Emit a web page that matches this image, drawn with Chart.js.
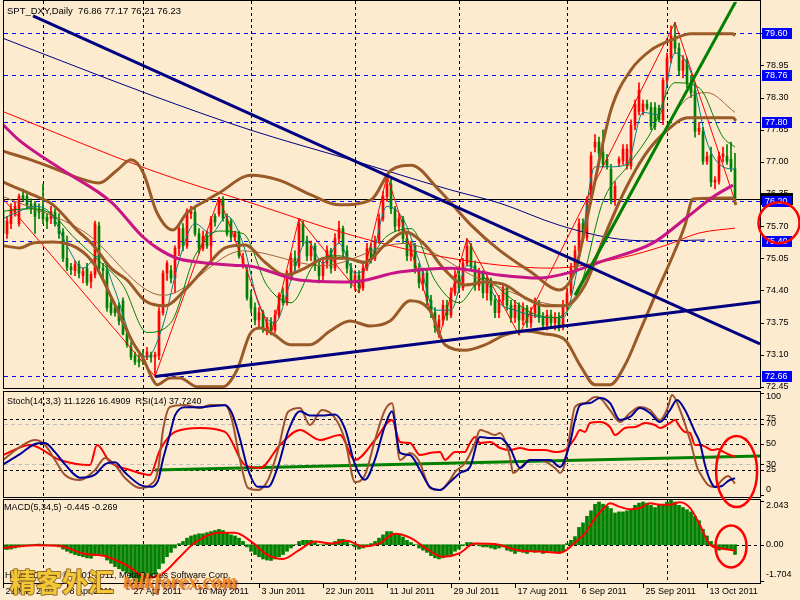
<!DOCTYPE html>
<html>
<head>
<meta charset="utf-8">
<title>SPT_DXY Daily</title>
<script src="https://cdn.jsdelivr.net/npm/chart.js@4.4.0/dist/chart.umd.min.js"></script>
<style>
  body { margin:0; background:#FCEBCF; }
  #wrap { position:relative; width:800px; height:600px; overflow:hidden; background:#FCEBCF; }
  .pane { position:absolute; left:0; width:800px; }
  #notes { position:absolute; left:0; top:0; pointer-events:none; }
</style>
</head>
<body>
<div id="wrap">
  <div class="pane" style="top:0;height:390px"><canvas id="cMain"></canvas></div>
  <div class="pane" style="top:390px;height:108px"><canvas id="cOsc"></canvas></div>
  <div class="pane" style="top:498px;height:102px"><canvas id="cMacd"></canvas></div>
  <canvas id="notes" width="800" height="600"></canvas>
</div>
<script>
// daily bars, one per trading day (incl. sunday bars), 21 Mar 2011 .. 17 Oct 2011
var opens = [
76.00,75.55,75.75,76.00,75.75,76.32,76.30,76.15,76.15,76.05,
76.05,75.88,75.85,75.98,75.80,75.58,75.05,74.87,74.80,74.92,
74.70,74.85,74.58,74.72,75.70,74.85,74.80,74.15,74.05,74.09,
74.19,73.52,73.25,73.08,73.00,73.08,73.05,73.10,73.05,73.08,
73.95,74.75,74.80,74.65,75.25,75.65,75.30,75.95,75.98,75.55,
75.25,75.50,75.30,75.90,75.95,76.25,75.85,75.80,75.48,75.55,
74.95,74.80,74.25,74.05,73.80,73.95,73.65,73.75,73.60,73.90,
74.30,74.15,74.70,75.05,74.90,75.75,75.40,75.10,75.30,74.90,
74.70,74.95,75.20,74.85,75.45,75.65,75.20,74.85,74.55,74.70,
74.45,74.85,75.25,75.05,75.40,75.85,76.30,76.55,76.05,75.70,
75.85,75.45,75.10,75.30,74.85,74.55,74.75,74.20,73.95,73.65,
73.80,74.10,73.90,74.35,74.70,74.45,74.95,75.30,74.90,74.50,
74.75,74.35,74.60,74.20,73.95,74.20,74.45,74.10,73.85,74.10,
73.80,74.05,73.75,73.95,74.15,73.85,73.70,73.90,73.75,73.85,
73.70,74.10,74.35,74.85,75.20,75.75,75.46,76.25,77.30,77.40,
77.20,77.05,76.85,76.22,76.98,77.02,76.92,76.92,77.74,78.02,
78.02,78.17,78.10,78.10,78.08,77.85,78.65,79.10,79.55,79.30,
78.85,79.05,78.60,78.45,77.62,77.62,77.01,77.14,76.59,76.61,
77.11,77.11,77.05,76.86];
var highs = [
76.10,75.90,76.15,76.20,76.35,76.45,76.40,76.25,76.20,76.15,
76.55,75.95,76.10,76.05,75.95,75.65,75.50,74.95,75.00,75.00,
74.85,74.95,74.78,75.80,75.78,74.95,74.90,74.30,74.10,74.15,
74.25,73.60,73.35,73.15,73.10,73.20,73.25,73.15,73.15,74.05,
74.80,75.00,74.90,75.30,75.75,75.75,76.05,76.10,76.10,75.65,
75.60,75.60,75.90,75.95,76.28,76.30,75.95,75.85,75.60,75.60,
75.15,74.90,74.40,74.15,74.05,74.00,73.85,73.85,74.00,74.35,
74.45,74.80,75.15,75.20,75.85,75.80,75.50,75.40,75.35,75.00,
75.05,75.30,75.25,75.55,75.80,75.70,75.30,74.95,74.80,74.80,
74.95,75.35,75.35,75.50,75.95,76.40,76.72,76.65,76.10,75.95,
75.90,75.55,75.40,75.35,74.95,74.85,74.80,74.30,74.05,73.90,
74.20,74.20,74.45,74.80,74.80,75.05,75.45,75.35,75.00,74.85,
74.80,74.70,74.65,74.30,74.30,74.55,74.50,74.20,74.20,74.15,
74.15,74.10,74.05,74.25,74.20,73.95,74.00,74.00,73.95,73.95,
74.20,74.45,74.95,75.30,75.85,75.85,76.30,77.20,77.55,77.50,
77.65,77.15,76.95,76.60,77.10,77.35,77.35,77.85,78.25,78.60,
78.25,78.25,78.20,78.20,78.15,78.70,79.20,79.75,79.82,79.40,
79.15,79.10,78.75,78.60,77.80,77.70,77.20,77.30,76.70,77.20,
77.30,77.35,77.40,77.17];
var lows = [
75.40,75.45,75.65,75.90,75.70,76.20,76.05,75.95,75.55,75.85,
75.75,75.65,75.75,75.70,75.45,74.98,74.80,74.72,74.70,74.65,
74.55,74.50,74.45,74.65,74.75,74.60,73.98,73.90,73.88,73.70,
73.50,73.25,73.00,72.90,72.85,72.90,73.00,72.95,72.66,73.00,
73.90,74.60,74.55,74.35,75.10,75.20,75.25,75.85,75.50,75.15,
75.20,75.25,75.00,75.70,75.90,75.80,75.50,75.40,75.40,75.05,
74.85,74.20,73.95,73.70,73.65,73.55,73.50,73.50,73.55,73.85,
74.10,74.10,74.60,74.80,74.85,75.30,75.00,75.00,74.80,74.55,
74.60,74.85,74.75,74.80,75.35,75.10,74.75,74.45,74.40,74.35,
74.40,74.80,74.95,75.00,75.35,75.80,76.20,75.95,75.60,75.60,
75.35,75.00,75.00,74.75,74.45,74.40,74.10,73.85,73.55,73.45,
73.70,73.80,73.85,74.30,74.35,74.40,74.90,74.80,74.40,74.40,
74.25,74.20,74.10,73.85,73.85,74.10,74.00,73.75,73.75,73.50,
73.70,73.65,73.65,73.85,73.75,73.60,73.60,73.65,73.60,73.58,
73.60,74.00,74.30,74.75,75.10,75.40,75.40,76.15,77.20,77.10,
76.90,76.85,76.15,76.12,76.90,76.95,76.85,76.85,77.65,77.95,
77.95,78.05,77.65,77.65,77.80,77.75,78.55,79.00,79.20,78.75,
78.70,78.50,78.30,77.50,77.55,76.95,76.95,76.50,76.45,76.55,
77.00,76.95,76.80,76.21];
var closes = [
75.55,75.80,76.05,76.10,76.30,76.25,76.12,76.05,75.90,75.98,
75.85,75.80,76.00,75.75,75.55,75.05,74.87,74.82,74.92,74.75,
74.78,74.55,74.72,75.75,74.85,74.80,74.05,73.95,73.95,73.78,
73.52,73.30,73.05,72.95,72.95,72.98,73.15,73.05,73.10,73.98,
74.75,74.95,74.65,75.25,75.65,75.30,76.00,76.00,75.55,75.25,
75.50,75.30,75.85,75.78,76.25,75.85,75.55,75.48,75.55,75.10,
75.05,74.25,74.05,73.80,73.95,73.65,73.75,73.60,73.90,74.30,
74.15,74.70,75.05,74.90,75.75,75.40,75.10,75.30,74.90,74.70,
74.95,75.20,74.85,75.45,75.65,75.20,74.85,74.55,74.70,74.45,
74.85,75.25,75.05,75.40,75.85,76.30,76.55,76.05,75.70,75.85,
75.45,75.10,75.30,74.85,74.55,74.75,74.20,73.95,73.65,73.80,
74.10,73.90,74.35,74.70,74.45,74.95,75.30,74.90,74.50,74.75,
74.35,74.60,74.20,73.95,74.20,74.45,74.10,73.85,74.10,73.80,
74.05,73.75,73.95,74.15,73.85,73.70,73.90,73.75,73.85,73.70,
74.10,74.35,74.85,75.20,75.75,75.45,76.25,77.12,77.40,77.18,
76.95,76.91,76.22,76.51,77.05,77.26,77.26,77.74,78.17,78.45,
78.17,78.10,77.72,77.72,77.85,78.65,79.10,79.55,79.30,78.85,
79.05,78.60,78.40,77.62,77.68,77.01,77.11,76.59,76.63,77.11,
77.16,77.01,76.87,76.23];

// indicator lines as [bar, value]
var bbUpper = [[-1,77.24],[7,77.04],[14,76.83],[19,76.67],[24,76.57],[28.5,76.83],[32,77.04],[35,76.79],[38.5,75.97],[42.5,75.62],[46,75.97],[51,76.23],[54,76.37],[62,76.73],[69,76.63],[77,76.33],[84,76.13],[92,76.23],[97,76.83],[102,76.93],[109,76.43],[117,75.72],[124,75.22],[132,74.77],[139,74.41],[143,74.81],[147,76.23],[152,78.05],[157,78.86],[162,79.26],[167,79.46],[172,79.59],[182.5,79.59],[183,79.55]];
var bbMiddle = [[-1,76.63],[1.75,76.53],[7.5,76.33],[12.5,76.13],[18.5,75.62],[22.5,75.32],[27,74.85],[31,74.61],[35.5,74.19],[40.5,74.09],[45.5,74.41],[50.5,74.85],[55.5,75.26],[60.5,75.32],[65.5,74.97],[70.5,74.71],[75.5,74.85],[80.5,75.05],[85.5,75.05],[90.5,74.97],[95.5,75.32],[100.5,75.58],[105.5,75.32],[110.5,74.81],[115.5,74.51],[120.5,74.57],[125.5,74.51],[130.5,74.25],[135.5,74.09],[140.5,74.09],[145.5,74.51],[150.5,75.52],[155.5,76.43],[160.5,77.14],[165.5,77.60],[171.25,77.89],[182.5,77.89],[183.25,77.83]];
var bbLower = [[-1,75.32],[4.25,75.26],[7.5,75.36],[12.5,75.38],[18.5,75.26],[23,74.91],[27.5,74.19],[32.5,73.34],[35,73.03],[37.5,72.59],[38.5,72.49],[41.75,72.63],[44.25,72.63],[48.5,72.45],[55,72.45],[58.5,72.79],[61.75,73.52],[64.25,73.64],[67.5,73.52],[71.75,73.30],[76.75,73.30],[81.75,73.58],[86.75,73.78],[91.75,73.68],[96.75,73.78],[101.75,74.19],[106.75,73.99],[110.5,73.30],[115.5,73.19],[120.5,73.30],[125.5,73.50],[130.5,73.58],[135.5,73.52],[140.5,73.40],[144.25,72.89],[148,72.49],[151.75,72.49],[155.5,72.89],[159.25,73.58],[163,74.29],[166.75,74.97],[170.5,75.72],[172.5,76.25],[182.5,76.27],[183.25,76.13]];
var maMagenta = [[0,77.75],[4,77.44],[15,76.83],[27,76.19],[35,75.48],[38.5,75.26],[43.5,75.05],[49,74.97],[57.5,74.91],[62,74.89],[74,74.61],[87,74.57],[99,74.77],[112,74.85],[124,74.71],[134,74.65],[142,74.77],[149,74.97],[162.5,75.36],[171,75.88],[177.5,76.29],[182.5,76.53]];
var maNavy = [[-1,79.53],[14,79.06],[37,78.35],[62,77.64],[87,77.04],[112,76.43],[124,76.17],[139,75.72],[152,75.46],[162,75.40],[175.5,75.42]];
var maRed = [[-1,78.05],[37,76.83],[62,76.17],[87,75.52],[112,75.05],[137,74.85],[154,75.05],[166,75.32],[174,75.56],[183,75.66]];
var maTeal = [[0,75.85],[4,76.0],[8,76.1],[12,75.95],[16,75.3],[20,74.85],[24,75.1],[28,74.4],[32,73.45],[36,73.05],[40,73.7],[44,75.0],[48,75.75],[52,75.55],[56,75.9],[60,75.35],[64,74.1],[68,73.75],[72,74.6],[76,75.4],[80,74.95],[84,75.35],[88,74.75],[92,75.0],[96,76.1],[100,75.85],[104,75.0],[108,74.0],[112,74.0],[116,74.9],[120,74.7],[124,74.15],[128,74.0],[132,73.9],[136,73.85],[140,73.85],[144,75.0],[148,76.9],[152,76.9],[156,76.95],[160,78.0],[164,77.95],[168,79.2],[172,78.8],[176,77.4],[180,76.9],[183,76.85]];
var maGreen = [[0,76.0],[6,76.05],[12,75.95],[18,75.45],[24,75.0],[30,74.5],[36,73.55],[42,73.75],[48,75.1],[54,75.6],[60,75.55],[66,74.5],[72,74.15],[78,74.95],[84,75.1],[90,74.95],[96,75.5],[102,75.65],[108,74.6],[114,74.15],[120,74.65],[126,74.3],[132,73.95],[138,73.85],[144,74.4],[150,76.2],[156,76.9],[162,77.6],[168,78.6],[174,78.5],[180,77.5],[183,77.3]];
var maBrown = [[0,76.3],[20,75.6],[40,74.3],[60,75.2],[80,74.9],[100,75.35],[120,74.6],[140,74.1],[150,75.3],[160,76.8],[170,78.2],[176,78.4],[183,78.0]];
var zigzag = [[-1,76.35],[38,72.66],[54,76.28],[67,73.50],[74,75.85],[89,74.35],[96,76.72],[109,73.45],[116,75.45],[129,73.50],[168,79.82],[183,76.21]];
// hand-drawn trend lines: two anchor points each
var trendDown = [[7.5,79.95],[189.25,73.32]];
var trendUp = [[38,72.66],[189.25,74.17]];
var trendGreen = [[143,74.30],[189.25,81.14]];

// oscillator window
var stochMain = [[0,34.3],[4.25,47.1],[8,53.9],[10.5,49],[13,34.3],[15.5,19.6],[19.25,14.7],[23,24.5],[25.5,36.3],[28,29.4],[30.5,16.7],[34.25,6.9],[36.75,9.8],[38.75,24.5],[40,63.7],[41.75,86.3],[45.5,88.2],[49.25,85.3],[51.75,88.2],[55.5,88.2],[57.25,73.5],[59.25,34.3],[61.25,6.9],[63.75,4.9],[66.25,14.7],[68.75,44.1],[71.25,81.4],[74.25,85.3],[76.75,68.6],[79.75,83.3],[83,75.5],[85.5,53.9],[88,12.7],[90.5,19.6],[93,53.9],[95.5,83.3],[97.25,90],[99.25,34.3],[101.75,41.2],[104.25,31.4],[105.5,17.6],[106.75,6.9],[109.25,4.9],[111.75,14.7],[113,22.5],[115.5,31.4],[118,51],[119.25,63.7],[121,61.8],[123,58.8],[124.25,60.8],[126.75,37.3],[127.5,21.6],[129.25,26.5],[131.75,34.3],[134.25,34.3],[138,26.5],[139.25,21.6],[140.5,31.4],[141.75,60.8],[143,86.3],[145.5,90.2],[148,96.1],[149.25,95.1],[151.75,83.3],[154.25,71.6],[156.75,80.4],[159.25,86.3],[161.75,83.3],[164.25,73.5],[166.25,86.3],[167.25,98],[169.25,83.3],[171.75,53.9],[173.5,27.5],[174.25,21.6],[176.25,9.8],[178,7.8],[179.75,14.7],[181.25,18.6],[183,11.12]];
var stochSignal = [[0,30],[4.25,40],[8,50],[10.5,51],[13,42],[15.5,30],[19.25,17],[23,20],[25.5,30],[28,32],[30.5,22],[34.25,10],[36.75,8],[38.75,14],[40,35],[41.75,60],[43,78],[45.5,86],[49.25,86],[51.75,87],[55.5,88],[57.25,80],[59.25,55],[61.25,25],[63.75,8],[66.25,8],[68.75,28],[71.25,62],[74.25,82],[76.75,78],[79.75,78],[83,79],[85.5,65],[88,30],[90.5,15],[93,35],[95.5,68],[97.25,82],[99.25,41.2],[101.75,39.2],[104.25,24.5],[106.75,7.8],[109.25,4.9],[111.75,12.7],[114.25,21.6],[116.75,27.5],[119.25,56.9],[121.75,55.9],[124.25,55.9],[126.75,46.1],[129.25,26.5],[131.75,34.3],[136.75,34.3],[139.25,27.5],[141.75,51],[143,73.5],[144.25,88.2],[146.75,90.2],[149.25,95.1],[151.75,90.2],[154.25,73.5],[156.75,76.5],[159.25,85.3],[161.75,80.4],[164.25,71.6],[166.75,83.3],[168.5,93.1],[170.5,83.3],[173,61.8],[174.25,51],[175.5,29.4],[176.75,14.7],[178,7.8],[179.75,8.8],[181.25,13.7],[183,16.49]];
var rsi = [[0,39.2],[6.75,49],[14.25,34.3],[21.75,29.4],[23.5,49],[26.75,32.4],[31.75,24.5],[36.75,19.6],[39.25,44.1],[43,61.8],[49.25,65.7],[55.5,61.8],[60.5,29.4],[64.25,26.5],[69.25,49],[74.25,63.7],[79.25,53.9],[84.25,58.8],[88,34.3],[93,53.9],[97.25,73.5],[99.25,52],[101.75,51],[104.25,39.2],[106.75,41.2],[109.25,42.2],[110.5,34.3],[113,42.2],[115.5,42.2],[116.75,51],[118,56.9],[119.25,51],[121.75,52],[124.25,46.1],[126.75,44.1],[129.25,46.1],[131.75,44.1],[135.5,44.1],[138,42.2],[140.5,44.1],[141.75,49],[143,55.9],[144.25,63.7],[145.5,61.8],[146.75,70.6],[149.25,71.6],[151.75,66.7],[153,58.8],[155.5,65.7],[158,66.7],[160.5,70.6],[163,68.6],[164.25,65.7],[166.75,70.6],[168,73.5],[169.25,66.7],[170.5,61.8],[171.75,60.8],[173,49],[174.25,49],[175.75,47],[177.25,44],[178.75,45],[180.25,42],[181.75,39.2],[183,37.72]];
var rsiTrend = [[38,24.5],[189.25,38.2]];
var oscLevels = [75, 50, 25];
var oscLevelsGray = [70, 30];
var oscTicks = [100, 75, 70, 50, 30, 25, 0];

// MACD(5,34,5) histogram per bar + signal line
var macdHist = [
-0.20,-0.22,-0.20,-0.15,-0.10,-0.05,-0.02,0.00,0.02,0.03,
0.02,0.00,-0.02,-0.05,-0.10,-0.20,-0.30,-0.38,-0.45,-0.50,
-0.55,-0.60,-0.62,-0.50,-0.45,-0.50,-0.70,-0.85,-1.00,-1.10,
-1.20,-1.30,-1.50,-1.65,-1.70,-1.68,-1.55,-1.45,-1.35,-1.10,
-0.85,-0.55,-0.35,-0.15,0.05,0.15,0.30,0.40,0.45,0.50,
0.50,0.55,0.60,0.65,0.70,0.65,0.55,0.45,0.40,0.30,
0.15,-0.10,-0.30,-0.45,-0.55,-0.65,-0.70,-0.72,-0.65,-0.55,
-0.45,-0.30,-0.15,0.00,0.15,0.20,0.20,0.20,0.10,0.00,
0.00,0.05,0.05,0.15,0.25,0.25,0.15,0.00,-0.10,-0.20,
-0.15,-0.05,0.05,0.15,0.30,0.45,0.60,0.60,0.50,0.45,
0.35,0.20,0.10,0.00,-0.15,-0.25,-0.35,-0.50,-0.60,-0.65,
-0.60,-0.55,-0.45,-0.30,-0.20,-0.05,0.10,0.10,0.00,-0.05,
-0.10,-0.10,-0.15,-0.20,-0.15,-0.10,-0.25,-0.30,-0.40,-0.30,
-0.35,-0.40,-0.30,-0.35,-0.30,-0.40,-0.35,-0.30,-0.35,-0.40,
-0.30,0.05,0.20,0.37,0.79,1.00,1.30,1.55,1.85,1.95,
1.85,1.75,1.65,1.45,1.50,1.50,1.55,1.60,1.80,1.90,
1.95,1.90,1.80,1.70,1.80,1.85,1.95,2.04,1.95,1.80,
1.70,1.60,1.50,1.30,1.10,0.70,0.40,0.15,-0.05,-0.25,
-0.20,-0.20,-0.25,-0.445];
var macdSignal = [[0,-0.15],[8,-0.02],[14,-0.05],[20,-0.40],[26,-0.55],[31,-0.95],[36,-1.50],[40,-1.30],[44,-0.60],[48,0.10],[54,0.55],[58,0.55],[62,0.15],[66,-0.45],[70,-0.65],[74,-0.25],[78,0.15],[82,0.05],[86,0.18],[90,-0.08],[94,0.05],[98,0.50],[102,0.30],[106,-0.20],[110,-0.55],[114,-0.40],[118,0.05],[124,0.00],[126.75,-0.16],[129,-0.26],[134,-0.31],[139,-0.37],[140.75,-0.26],[143,0.10],[145.5,0.52],[148,1.20],[150.5,1.73],[151.75,1.89],[154.25,1.73],[156.75,1.62],[159.25,1.68],[161.75,1.89],[164.25,1.83],[166.75,1.83],[169.25,1.94],[171.75,1.68],[174.25,0.89],[176.75,0.0],[179.25,-0.16],[183,-0.269]];
var macdMax = 2.043, macdMin = -1.704;

// axis texts
var priceTicks = [72.45,73.10,73.75,74.40,75.05,75.70,76.35,77.00,77.65,78.30,78.95,79.60];
var priceLevels = [79.60,78.76,77.80,76.20,75.40,72.66];
var bidPrice = 76.23;
var dateLabels = ['21 Mar 2011','8 Apr 2011','27 Apr 2011','16 May 2011','3 Jun 2011','22 Jun 2011','11 Jul 2011','29 Jul 2011','17 Aug 2011','6 Sep 2011','25 Sep 2011','13 Oct 2011'];
var dateBars = [0,16,32,48,64,80,96,112,128,144,160,176];
var gridBars = [10,35,62,88,114,141,166];

var X_MIN = 0.25, X_MAX = 189.25;
var FONT = '"Liberation Sans", Arial, sans-serif';
var UP = '#FF0000', DOWN = '#008000', BROWN = '#9A5A28';

function pts(arr) { return arr.map(function (p) { return { x: p[0], y: p[1] }; }); }
function line(arr, color, width, smooth, order) {
    return {
        type: 'line', data: pts(arr), borderColor: color, borderWidth: width,
        pointRadius: 0, fill: false, order: order || 1,
        tension: 0, cubicInterpolationMode: smooth ? 'monotone' : 'default'
    };
}
function opts(pad, yMin, yMax, plugin) {
    return {
        responsive: true, maintainAspectRatio: false, animation: false, events: [],
        layout: { padding: pad },
        plugins: { legend: { display: false }, tooltip: { enabled: false } },
        scales: {
            x: { type: 'linear', min: X_MIN, max: X_MAX, display: false, offset: false },
            y: { min: yMin, max: yMax, display: false }
        }
    };
}
function dashLine(ctx, x1, y1, x2, y2, color, dash, w) {
    ctx.save();
    ctx.strokeStyle = color; ctx.lineWidth = w || 1; ctx.setLineDash(dash || []);
    ctx.beginPath(); ctx.moveTo(x1, y1); ctx.lineTo(x2, y2); ctx.stroke();
    ctx.restore();
}
function vGrid(chart, top, bottom) {
    var ctx = chart.ctx, xs = chart.scales.x;
    gridBars.forEach(function (b) {
        var x = Math.round(xs.getPixelForValue(b)) + 0.5;
        dashLine(ctx, x, top, x, bottom, '#000', [3, 3]);
    });
}
function frame(ctx, top, bottom) {
    ctx.save();
    ctx.strokeStyle = '#000'; ctx.lineWidth = 1;
    ctx.strokeRect(3.5, top + 0.5, 757, bottom - top);
    ctx.restore();
}
function axisText(ctx, txt, y, tickY) {
    ctx.save();
    ctx.fillStyle = '#000'; ctx.font = '9px ' + FONT; ctx.textBaseline = 'middle';
    dashLine(ctx, 760, Math.round(tickY) + 0.5, 764, Math.round(tickY) + 0.5, '#000');
    ctx.fillText(txt, 766, y);
    ctx.restore();
}

// ---------------- main price window ----------------
var idx = closes.map(function (c, i) { return i; });
var barCol = closes.map(function (c, i) { return c >= opens[i] ? UP : DOWN; });

var mainPlugin = {
    id: 'mainDeco',
    beforeDatasetsDraw: function (chart) {
        var ctx = chart.ctx, a = chart.chartArea, ys = chart.scales.y;
        vGrid(chart, 1, 388);
        priceLevels.forEach(function (p) {
            var y = Math.round(ys.getPixelForValue(p)) + 0.5;
            dashLine(ctx, 4, y, a.right, y, '#0000FF', [4, 4]);
        });
        var yb = Math.round(ys.getPixelForValue(bidPrice)) - 0.5;
        dashLine(ctx, 4, yb, a.right, yb, '#000');
    },
    afterDraw: function (chart) {
        var ctx = chart.ctx, ys = chart.scales.y;
        frame(ctx, 0, 388);
        priceTicks.forEach(function (p) {
            var y = ys.getPixelForValue(p);
            axisText(ctx, p.toFixed(2), y, y);
        });
        // bid price box (dark) under the 76.20 box
        var yb = ys.getPixelForValue(bidPrice);
        ctx.fillStyle = '#000';
        ctx.fillRect(761, Math.round(yb) - 7, 32, 12);
        priceLevels.forEach(function (p) {
            var y = Math.round(ys.getPixelForValue(p));
            ctx.fillStyle = '#0000FF';
            ctx.fillRect(762, y - 5, 30, 11);
            ctx.fillStyle = '#FFFFFF';
            ctx.font = '9px ' + FONT; ctx.textBaseline = 'middle';
            ctx.fillText(p.toFixed(2), 765, y + 0.5);
        });
        ctx.fillStyle = '#000'; ctx.font = '9.5px ' + FONT; ctx.textBaseline = 'middle';
        ctx.fillText('SPT_DXY,Daily  76.86 77.17 76.21 76.23', 7, 11);
    }
};

var mainChart = new Chart(document.getElementById('cMain'), {
    type: 'bar',
    data: {
        datasets: [
            { type: 'bar', data: idx.map(function (i) { return { x: i, y: [lows[i], highs[i]] }; }),
              backgroundColor: barCol, barThickness: 1, grouped: false, order: 30 },
            { type: 'bar', data: idx.map(function (i) { return { x: i, y: [opens[i], closes[i]] }; }),
              backgroundColor: barCol, barThickness: 2, minBarLength: 1, grouped: false, order: 29 },
            line(maBrown, '#A0643C', 1, true, 8),
            line(maGreen, '#008000', 1, true, 7),
            line(maTeal, '#008080', 1, true, 7),
            line(maRed, '#FF0000', 1, true, 7),
            line(maNavy, '#000080', 1, true, 7),
            line(zigzag, '#FF0000', 1, false, 6),
            line(bbUpper, BROWN, 3, true, 5),
            line(bbMiddle, BROWN, 3, true, 5),
            line(bbLower, BROWN, 3, true, 5),
            line(maMagenta, '#C71585', 3, true, 4),
            line(trendDown, '#000080', 3, false, 2),
            line(trendUp, '#000080', 3, false, 2),
            line(trendGreen, '#008000', 3, false, 2)
        ]
    },
    options: opts({ left: 4, right: 40, top: 2, bottom: 2 }, 72.426, 80.233),
    plugins: [mainPlugin]
});

// ---------------- stochastic / RSI window ----------------
var oscPlugin = {
    id: 'oscDeco',
    beforeDatasetsDraw: function (chart) {
        var ctx = chart.ctx, a = chart.chartArea, ys = chart.scales.y;
        vGrid(chart, 1, 107);
        oscLevelsGray.forEach(function (v) {
            var y = Math.round(ys.getPixelForValue(v)) + 0.5;
            dashLine(ctx, 4, y, a.right, y, '#C0C0C0', [4, 3]);
        });
        oscLevels.forEach(function (v) {
            var y = Math.round(ys.getPixelForValue(v)) + 0.5;
            dashLine(ctx, 4, y, a.right, y, '#000', [3, 3]);
        });
    },
    afterDraw: function (chart) {
        var ctx = chart.ctx, ys = chart.scales.y;
        frame(ctx, 1, 107);
        oscTicks.forEach(function (v) {
            var y = ys.getPixelForValue(v);
            axisText(ctx, String(v), Math.min(Math.max(y, 7), 100), Math.min(Math.max(y, 2), 106));
        });
        ctx.fillStyle = '#000'; ctx.font = '9px ' + FONT; ctx.textBaseline = 'middle';
        ctx.fillText('Stoch(14,3,3) 11.1226 16.4909  RSI(14) 37.7240', 7, 12);
    }
};
var oscChart = new Chart(document.getElementById('cOsc'), {
    type: 'line',
    data: {
        datasets: [
            line(rsiTrend, '#008000', 3, false, 4),
            line(rsi, '#FF0000', 2, true, 3),
            line(stochMain, '#A0522D', 2, true, 2),
            line(stochSignal, '#000096', 2, true, 1)
        ]
    },
    options: opts({ left: 4, right: 40, top: 3, bottom: 3 }, 0, 100),
    plugins: [oscPlugin]
});

// ---------------- MACD window ----------------
var macdPlugin = {
    id: 'macdDeco',
    beforeDatasetsDraw: function (chart) {
        var ctx = chart.ctx, a = chart.chartArea, ys = chart.scales.y;
        vGrid(chart, 1, 85);
        var y0 = Math.round(ys.getPixelForValue(0)) + 0.5;
        dashLine(ctx, 4, y0, a.right, y0, '#000', [3, 3]);
    },
    afterDraw: function (chart) {
        var ctx = chart.ctx, ys = chart.scales.y, xs = chart.scales.x;
        frame(ctx, 1, 85);
        axisText(ctx, macdMax.toFixed(3), 8, ys.getPixelForValue(macdMax) + 1);
        axisText(ctx, '0.00', ys.getPixelForValue(0), ys.getPixelForValue(0));
        axisText(ctx, macdMin.toFixed(3), 77, ys.getPixelForValue(macdMin) - 1);
        ctx.fillStyle = '#000'; ctx.font = '9px ' + FONT; ctx.textBaseline = 'middle';
        ctx.fillText('MACD(5,34,5) -0.445 -0.269', 4, 10);
        ctx.fillText('HistoryCenter \u00a9 2001-2011, MetaQuotes Software Corp.', 5, 78);
        // time axis
        dateBars.forEach(function (b, k) {
            var x = Math.round(xs.getPixelForValue(b)) + 0.5;
            dashLine(ctx, x, 85, x, 90, '#000');
            ctx.fillStyle = '#000';
            ctx.fillText(dateLabels[k], x + 2, 94);
        });
    }
};
var macdChart = new Chart(document.getElementById('cMacd'), {
    type: 'bar',
    data: {
        datasets: [
            { type: 'bar', data: idx.map(function (i) { return { x: i, y: macdHist[i] }; }),
              backgroundColor: '#008000', barThickness: 3, order: 5 },
            line(macdSignal, '#FF0000', 2, true, 1)
        ]
    },
    options: opts({ left: 4, right: 40, top: 2, bottom: 18 }, macdMin, macdMax),
    plugins: [macdPlugin]
});

// ---------------- hand drawn marks on top ----------------
(function () {
    var g = document.getElementById('notes').getContext('2d');
    function ell(cx, cy, rx, ry) {
        g.beginPath(); g.ellipse(cx, cy, rx, ry, 0, 0, Math.PI * 2); g.stroke();
    }
    g.strokeStyle = '#FF0000'; g.lineWidth = 2.5;
    ell(mainChart.chartArea.right + 19, mainChart.scales.y.getPixelForValue(75.77), 20.5, 20.5);
    ell(oscChart.scales.x.getPixelForValue(183.4), 390 + oscChart.scales.y.getPixelForValue(23), 20.5, 35.5);
    ell(macdChart.scales.x.getPixelForValue(182), 498 + macdChart.scales.y.getPixelForValue(-0.08), 15.5, 21);

    // site watermark
    g.save();
    g.textBaseline = 'middle';
    g.font = 'bold 26px "Noto Sans CJK SC", sans-serif';
    g.lineJoin = 'round';
    g.lineWidth = 2;
    g.strokeStyle = 'rgba(130,80,0,0.8)';
    g.strokeText('精客外汇', 10, 582);
    g.fillStyle = '#F2C838';
    g.fillText('精客外汇', 10, 582);
    g.font = 'bold italic 20px "Liberation Serif", serif';
    g.fillStyle = 'rgba(150,40,0,0.6)';
    g.fillText('talkforex.com', 125, 585);
    g.fillStyle = '#F08A1E';
    g.fillText('talkforex.com', 123, 583);
    g.restore();
})();
</script>
</body>
</html>
